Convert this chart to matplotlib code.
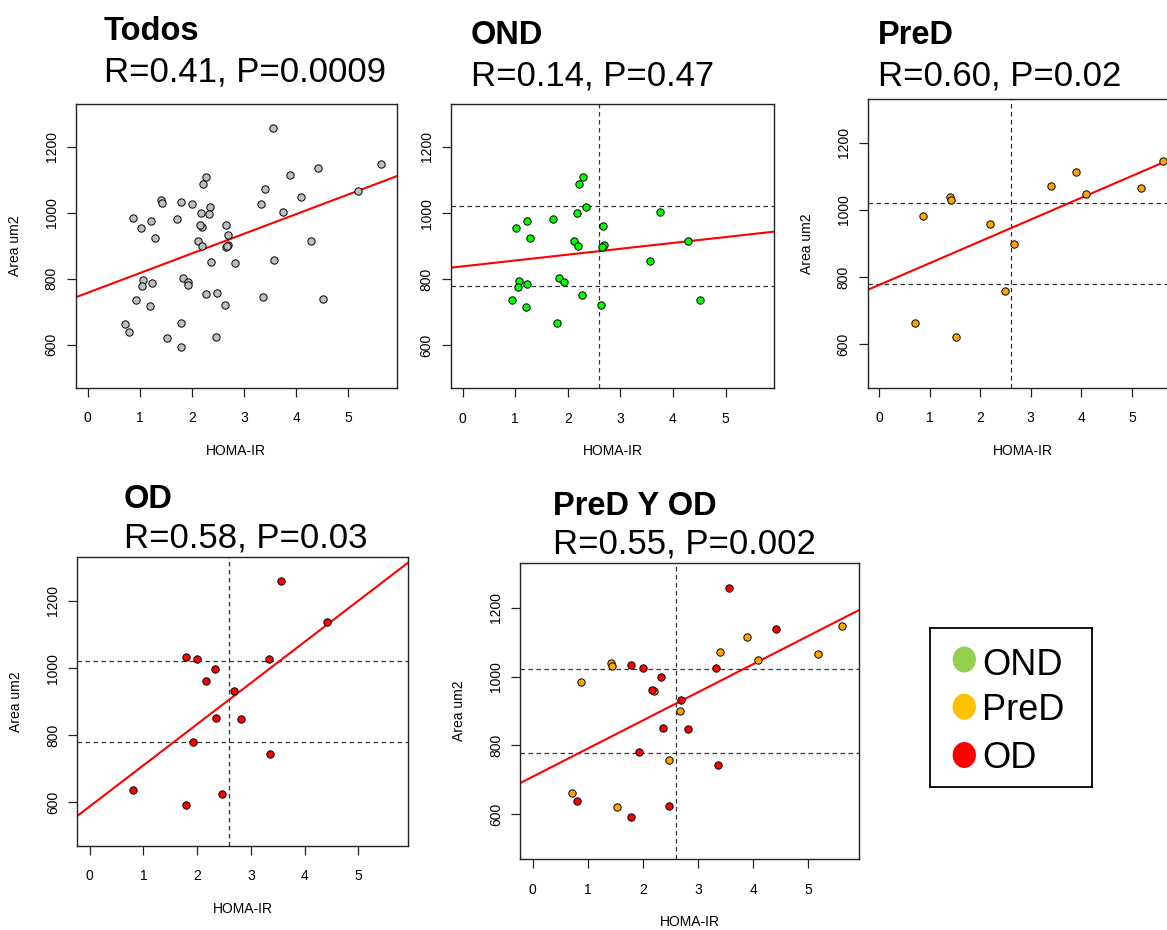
import numpy as np
import matplotlib
matplotlib.use("Agg")
import matplotlib.pyplot as plt
from matplotlib.patches import Ellipse

plt.rcParams['font.family'] = ['Liberation Sans', 'DejaVu Sans']

# ---------------- data ----------------
ond_x = [2.28, 2.22, 2.35, 3.75, 2.17, 1.72, 1.22, 1.02, 2.66, 1.29, 2.11, 2.19, 2.69, 2.65,
         4.29, 3.57, 1.83, 1.92, 1.07, 1.05, 1.23, 2.27, 0.93, 1.20, 2.63, 4.51, 1.79]
ond_y = [1110, 1087, 1018, 1004, 999, 982, 975, 955, 962, 924, 915, 901, 902, 897,
         915, 856, 804, 791, 795, 777, 786, 753, 736, 717, 722, 738, 667]

pred_x = [5.62, 3.89, 3.40, 4.09, 5.18, 1.41, 1.43, 0.87, 2.20, 2.67, 2.48, 0.71, 1.52]
pred_y = [1147, 1114, 1072, 1049, 1066, 1040, 1031, 983, 957, 899, 757, 663, 621]

od_x = [3.56, 4.41, 1.79, 2.00, 3.33, 2.33, 2.16, 2.69, 2.36, 2.82, 1.93, 3.36, 0.80, 2.47, 1.79]
od_y = [1258, 1137, 1032, 1026, 1026, 998, 962, 933, 850, 847, 781, 744, 638, 625, 592]

titles = ["Todos", "OND", "PreD", "OD", "PreD Y OD"]
stats = ["R=0.41, P=0.0009", "R=0.14, P=0.47", "R=0.60, P=0.02",
         "R=0.58, P=0.03", "R=0.55, P=0.002"]
x_ticks = [0, 1, 2, 3, 4, 5]
y_ticks = [600, 800, 1000, 1200]
homa_cut = 2.6
area_cuts = [1021, 779]
legend_labels = ["OND", "PreD", "OD"]
legend_colors = ["#92D050", "#FFC000", "#FF0000"]

# ---------------- figure ----------------
W, H = 1167, 930
fig = plt.figure(figsize=(W / 100, H / 100), dpi=100)


def add_ax(L, T, R, B):
    return fig.add_axes([L / W, 1 - B / H, (R - L) / W, (B - T) / H])


def style(ax, L, T, R, B, ylabel=True):
    ax.set_xlim(-0.228, 5.928)
    ax.set_ylim(470, 1330)
    ax.set_xticks(x_ticks)
    ax.set_yticks(y_ticks)
    for s in ax.spines.values():
        s.set_linewidth(1.0)
        s.set_color('#222222')
    ax.tick_params(direction='out', length=6.3, width=0.9, labelsize=10,
                   color='#222222')
    ax.tick_params(axis='x', pad=10.5)
    ax.tick_params(axis='y', pad=6.0)
    for lab in ax.get_yticklabels():
        lab.set_rotation(90)
        lab.set_va('center')
    ax.set_xlabel("HOMA-IR", fontsize=10)
    ax.xaxis.label.set_va('center')
    ax.xaxis.set_label_coords(0.5, -63 / (B - T))
    if ylabel:
        ax.set_ylabel("Area um2", fontsize=10)
        ax.yaxis.label.set_va('center')
        ax.yaxis.set_label_coords(-61 / (R - L), 0.5)


def fit_line(ax, x, y):
    m, b = np.polyfit(np.asarray(x, float), np.asarray(y, float), 1)
    ax.axline((0, b), slope=m, color='#FF0000', lw=1.5, zorder=2)


def cuts(ax):
    for yv in area_cuts:
        ax.axhline(yv, color='#333333', lw=0.9, ls=(0, (3.6, 2.8)), zorder=1)
    ax.axvline(homa_cut, color='#333333', lw=0.9, ls=(0, (3.6, 2.8)), zorder=1)


def pts(ax, x, y, c):
    ax.scatter(x, y, s=28, c=c, edgecolors='black', linewidths=0.7, zorder=3)


def title(L, y1, y2, t, s):
    fig.text(L / W, 1 - y1 / H, t, fontsize=23.5, fontweight='bold',
             ha='left', va='baseline')
    fig.text(L / W, 1 - y2 / H, s, fontsize=25, ha='left', va='baseline')


all_x = ond_x + pred_x + od_x
all_y = ond_y + pred_y + od_y

# Todos
box = (75.7, 104, 396.7, 387.7)
ax1 = add_ax(*box)
style(ax1, *box)
pts(ax1, all_x, all_y, '#BEBEBE')
fit_line(ax1, all_x, all_y)
title(104, 40, 81, titles[0], stats[0])

# OND
box = (450.7, 104, 774.3, 388.3)
ax2 = add_ax(*box)
style(ax2, *box, ylabel=False)
cuts(ax2)
pts(ax2, ond_x, ond_y, '#00FF00')
fit_line(ax2, ond_x, ond_y)
title(471, 44, 85, titles[1], stats[1])

# PreD
box = (867.7, 99.3, 1178.7, 387.7)
ax3 = add_ax(*box)
style(ax3, *box)
cuts(ax3)
pts(ax3, pred_x, pred_y, '#FFA500')
fit_line(ax3, pred_x, pred_y)
title(878, 44, 85, titles[2], stats[2])

# OD
box = (77.3, 557.3, 408.3, 846)
ax4 = add_ax(*box)
style(ax4, *box)
cuts(ax4)
pts(ax4, od_x, od_y, '#FF0000')
fit_line(ax4, od_x, od_y)
title(124, 508, 548, titles[3], stats[3])

# PreD Y OD
box = (520.3, 562.7, 859.3, 859.3)
ax5 = add_ax(*box)
style(ax5, *box)
cuts(ax5)
pts(ax5, pred_x, pred_y, '#FFA500')
pts(ax5, od_x, od_y, '#FF0000')
fit_line(ax5, pred_x + od_x, pred_y + od_y)
title(553, 515, 554, titles[4], stats[4])

# Legend box
lL, lT, lR, lB = 930, 628.3, 1091.7, 786.7
axl = add_ax(lL, lT, lR, lB)
axl.set_xlim(0, lR - lL)
axl.set_ylim(lB - lT, 0)
axl.set_xticks([])
axl.set_yticks([])
for s in axl.spines.values():
    s.set_linewidth(1.3)
    s.set_color('black')
centers_y = [659.5, 706.7, 755]
baselines = [675, 720.5, 767.5]
for lab, col, cy, bl in zip(legend_labels, legend_colors, centers_y, baselines):
    axl.add_patch(Ellipse((964.3 - lL, cy - lT), 23.3, 26, facecolor=col,
                          edgecolor='none'))
    axl.text(982.3 - lL, bl - lT, lab, fontsize=26, ha='left', va='baseline')

fig.savefig("out.png", dpi=100)
